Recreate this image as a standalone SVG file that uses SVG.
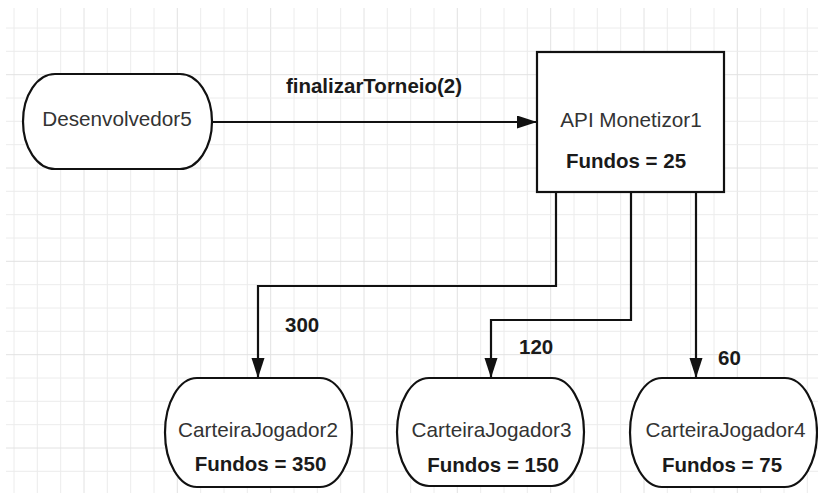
<svg xmlns="http://www.w3.org/2000/svg" width="818" height="493" viewBox="0 0 818 493">
<style>
.minor{stroke:#ececec;stroke-width:1;fill:none}
.major{stroke:#e2e2e2;stroke-width:1;fill:none}
.node{fill:#ffffff;stroke:#111111;stroke-width:2.2}
.conn{fill:none;stroke:#111111;stroke-width:2.2}
.t{font-family:"Liberation Sans",Arial,sans-serif;font-size:20.7px;fill:#333333;text-anchor:middle}
.b{font-family:"Liberation Sans",Arial,sans-serif;font-size:20.5px;font-weight:bold;fill:#1a1a1a}
.c{text-anchor:middle}
</style>
<defs>
<marker id="arr" markerUnits="userSpaceOnUse" markerWidth="21" markerHeight="14" refX="20" refY="6.5" orient="auto">
<path d="M0,0 L20,6.5 L0,13 Z" fill="#111111"/>
</marker>
</defs>
<rect x="0" y="0" width="818" height="493" fill="#ffffff"/>
<g id="grid">
<path class="minor" d="M14,8V493 M37.3,8V493 M60.7,8V493 M107.3,8V493 M130.7,8V493 M154,8V493 M200.7,8V493 M224,8V493 M247.3,8V493 M294,8V493 M317.3,8V493 M340.7,8V493 M387.3,8V493 M410.7,8V493 M434,8V493 M480.7,8V493 M504,8V493 M527.3,8V493 M574,8V493 M597.3,8V493 M620.7,8V493 M667.3,8V493 M690.7,8V493 M714,8V493 M760.7,8V493 M784,8V493 M807.3,8V493"/>
<path class="major" d="M84,8V493 M177.3,8V493 M270.7,8V493 M364,8V493 M457.3,8V493 M550.7,8V493 M644,8V493 M737.3,8V493"/>
<path class="minor" d="M6,28H818 M6,51.3H818 M6,98H818 M6,121.3H818 M6,144.7H818 M6,191.3H818 M6,214.7H818 M6,238H818 M6,284.7H818 M6,308H818 M6,331.3H818 M6,378H818 M6,401.3H818 M6,424.7H818 M6,471.3H818"/>
<path class="major" d="M6,74.7H818 M6,168H818 M6,261.3H818 M6,354.7H818 M6,448H818"/>
</g>
<g id="connectors">
<path class="conn" d="M212,122 H537" marker-end="url(#arr)"/>
<path class="conn" d="M556,192 V286 H258 V378" marker-end="url(#arr)"/>
<path class="conn" d="M631,192 V320 H491 V378" marker-end="url(#arr)"/>
<path class="conn" d="M696,192 V378" marker-end="url(#arr)"/>
<text class="b c" x="374" y="93">finalizarTorneio(2)</text>
<text class="b" x="285" y="332">300</text>
<text class="b" x="519" y="354">120</text>
<text class="b" x="718" y="365">60</text>
</g>
<g id="desenvolvedor5">
<rect class="node" x="23" y="74" width="189" height="95" rx="32" ry="47.5"/>
<text class="t" x="117" y="126">Desenvolvedor5</text>
</g>
<g id="apiMonetizor1">
<rect class="node" x="537" y="52" width="187" height="140" stroke-width="2.5"/>
<text class="t" x="631" y="127">API Monetizor1</text>
<text class="b c" x="626" y="168">Fundos = 25</text>
</g>
<g id="carteiraJogador2">
<rect class="node" x="165" y="378" width="187" height="109" rx="32" ry="54.5"/>
<text class="t" x="258" y="437">CarteiraJogador2</text>
<text class="b c" x="260.5" y="471">Fundos = 350</text>
</g>
<g id="carteiraJogador3">
<rect class="node" x="397" y="378" width="187" height="108" rx="32" ry="54"/>
<text class="t" x="491.5" y="437">CarteiraJogador3</text>
<text class="b c" x="493" y="472">Fundos = 150</text>
</g>
<g id="carteiraJogador4">
<rect class="node" x="630" y="378" width="187" height="109" rx="32" ry="54.5"/>
<text class="t" x="725.5" y="437">CarteiraJogador4</text>
<text class="b c" x="722" y="472">Fundos = 75</text>
</g>
</svg>
